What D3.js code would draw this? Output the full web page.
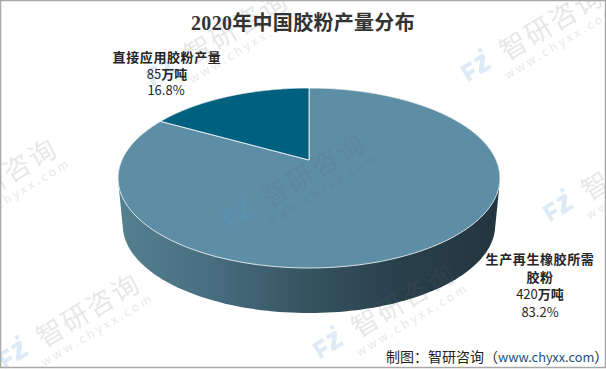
<!DOCTYPE html>
<html><head><meta charset="utf-8">
<script src="https://cdnjs.cloudflare.com/ajax/libs/d3/7.8.5/d3.min.js"></script>
<style>html,body{margin:0;padding:0;background:#fff}svg{display:block}</style>
</head><body><div id="c"></div>
<script>
const categories = ["生产再生橡胶所需胶粉", "直接应用胶粉产量"];
const values = [420, 85];
const percents = ["83.2%", "16.8%"];
const chartTitle = "2020年中国胶粉产量分布";
const unit = "万吨";
const watermarks = [[478,68],[163,72],[240,215],[560,208],[330,345],[15,355],[-68,220]];

const W = 606, H = 369;
const svg = d3.select("#c").append("svg").attr("width", W).attr("height", H);
const sans = "'Noto Sans CJK SC','Noto Sans',sans-serif";

// perspective projection of the pie disc
const cx = 309, cy = 160, R = 187.1, A = 86.4, K = 0.2;
const project = (ang, s, y0) => {
  const u = Math.sin(ang), v = Math.cos(ang), d = 1 + K * v;
  return [cx + s * R * u / d, y0 - s * A * v / d];
};
const topPt = a => project(a, 1, cy);
const botPt = a => project(a, 0.975, 207.7);

const pie = d3.pie().sort(null).value(d => d).startAngle(0).endAngle(2 * Math.PI);
const arcs = pie(values);
const line = d3.line();
const sample = (a0, a1, n) => d3.range(n + 1).map(i => a0 + (a1 - a0) * i / n);

const defs = svg.append("defs");
const grad = defs.append("linearGradient").attr("id", "side").attr("gradientUnits", "userSpaceOnUse")
  .attr("x1", 118).attr("x2", 500).attr("y1", 0).attr("y2", 0);
[[0, "#55808f"], [0.25, "#476d7f"], [0.5, "#365360"], [0.75, "#283f4a"], [1, "#233640"]]
  .forEach(s => grad.append("stop").attr("offset", s[0]).attr("stop-color", s[1]));

// extruded side
const all = sample(0, 2 * Math.PI, 240);
const hull = d3.polygonHull(all.map(topPt).concat(all.map(botPt)));
svg.append("path").attr("d", line(hull) + "Z").attr("fill", "url(#side)");

// top face
const colors = ["#5d8ea6", "#00607f"];
arcs.forEach((d, i) => {
  const pts = sample(d.startAngle, d.endAngle, 200).map(topPt);
  svg.append("path").attr("d", line([[cx, cy], ...pts]) + "Z")
    .attr("fill", colors[i]).attr("stroke", "#fff").attr("stroke-width", 0.8).attr("stroke-linejoin", "round");
});

// watermarks
const logo = "M-15,-10H-3V-6H-11V-2H-4V2H-11V7H-15Z M1,-10H12V-6L5,3H12V7H-1V3L6,-6H1Z M9,-16H13V-12H9Z";
watermarks.forEach(([x, y]) => {
  const g = svg.append("g").attr("transform", `translate(${x},${y}) rotate(-31)`);
  g.append("path").attr("d", logo).attr("fill", "#5a9ad6").attr("opacity", 0.2);
  g.append("text").attr("x", 28).attr("y", 9).attr("font-family", sans).attr("font-size", 27)
    .attr("letter-spacing", 2).attr("fill", "#666").attr("opacity", 0.15).text("智研咨询");
  g.append("text").attr("x", 19).attr("y", 25).attr("font-family", sans).attr("font-size", 12)
    .attr("letter-spacing", 3).attr("fill", "#666").attr("opacity", 0.15).text("www.chyxx.com");
});

// title
svg.append("text").attr("x", 303).attr("y", 30).attr("text-anchor", "middle")
  .attr("font-family", "'Liberation Serif','Noto Sans CJK SC',serif").attr("font-size", 20)
  .attr("font-weight", "bold").attr("letter-spacing", 0.3).attr("fill", "#333").text(chartTitle);

// labels
const label = (x, y, txt, weight, spacing) => svg.append("text").attr("x", x).attr("y", y)
  .attr("text-anchor", "middle").attr("font-family", sans).attr("font-size", 13)
  .attr("font-weight", weight).attr("letter-spacing", spacing || 0)
  .attr("fill", "#262626").text(txt);
const amount = (x, y, v) => {
  const t = label(x, y, "", "normal");
  t.append("tspan").text(v);
  t.append("tspan").attr("font-weight", "bold").text(unit);
};

label(167, 62, categories[1], "bold", 0.6);
amount(167, 79, values[1]);
label(166, 95, percents[1], "normal");

label(540, 264, categories[0].slice(0, 8), "bold", 0.6);
label(540, 282, categories[0].slice(8), "bold", 0.6);
amount(540, 299, values[0]);
label(540, 317, percents[0], "normal");

// source (full-width colon and parentheses)
const src = svg.append("text").attr("x", 386).attr("y", 362)
  .attr("font-family", sans).attr("font-size", 14).attr("fill", "#222");
src.append("tspan").text("制图\uFF1A智研咨询\uFF08");
src.append("tspan").attr("fill", "#1f4e79").attr("font-size", 12.8).text("www.chyxx.com");
src.append("tspan").text("\uFF09");

// frame
svg.append("rect").attr("x", 0.5).attr("y", 0.5).attr("width", W - 1).attr("height", H - 2)
  .attr("fill", "none").attr("stroke", "#a8a8a8").attr("stroke-width", 1.5);
</script></body></html>
